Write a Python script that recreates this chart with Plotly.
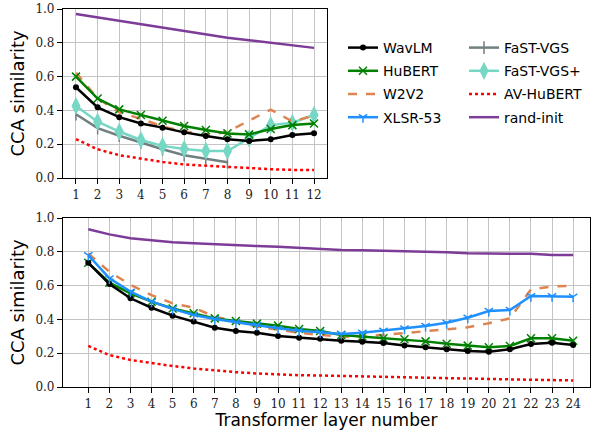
import plotly.graph_objects as go

layers12 = list(range(1, 13))
layers24 = list(range(1, 25))

# Top panel (12-layer models)
top_wavlm = [0.537, 0.418, 0.36, 0.323, 0.298, 0.27, 0.248, 0.229, 0.219, 0.229, 0.254, 0.265]
top_hubert = [0.60, 0.47, 0.406, 0.373, 0.339, 0.308, 0.284, 0.264, 0.258, 0.29, 0.313, 0.323]
top_w2v2 = [0.623, 0.47, 0.39, 0.35, 0.305, 0.275, 0.255, 0.272, 0.34, 0.405, 0.335, 0.37]
top_fastvgs = [0.377, 0.295, 0.25, 0.21, 0.17, 0.135, 0.115, 0.093]
top_fastvgsp = [0.426, 0.333, 0.275, 0.225, 0.19, 0.172, 0.16, 0.16, 0.235, 0.313, 0.327, 0.373]
top_avhubert = [0.23, 0.17, 0.135, 0.115, 0.095, 0.08, 0.072, 0.065, 0.058, 0.052, 0.048, 0.047]
top_rand = [0.97, 0.95, 0.93, 0.91, 0.89, 0.87, 0.85, 0.83, 0.815, 0.80, 0.785, 0.77]

# Bottom panel (24-layer models)
bot_wavlm = [0.735, 0.61, 0.525, 0.469, 0.422, 0.387, 0.351, 0.331, 0.321, 0.302, 0.292, 0.286,
             0.274, 0.268, 0.26, 0.246, 0.235, 0.223, 0.213, 0.209, 0.223, 0.254, 0.262, 0.249]
bot_hubert = [0.735, 0.617, 0.554, 0.505, 0.465, 0.436, 0.406, 0.39, 0.375, 0.363, 0.343, 0.331,
              0.308, 0.298, 0.288, 0.282, 0.27, 0.256, 0.245, 0.235, 0.243, 0.288, 0.288, 0.274]
bot_w2v2 = [0.79, 0.682, 0.604, 0.544, 0.495, 0.469, 0.416, 0.39, 0.357, 0.337, 0.321, 0.308,
            0.298, 0.298, 0.308, 0.318, 0.331, 0.341, 0.353, 0.377, 0.406, 0.578, 0.594, 0.60]
bot_xlsr = [0.78, 0.643, 0.564, 0.505, 0.462, 0.426, 0.402, 0.383, 0.367, 0.347, 0.333, 0.323,
            0.314, 0.321, 0.333, 0.347, 0.361, 0.38, 0.41, 0.45, 0.456, 0.538, 0.538, 0.534]
bot_avhubert = [0.243, 0.189, 0.16, 0.14, 0.124, 0.11, 0.098, 0.088, 0.08, 0.074, 0.07, 0.068,
                0.065, 0.062, 0.059, 0.056, 0.053, 0.05, 0.048, 0.046, 0.045, 0.043, 0.041, 0.039]
bot_rand = [0.933, 0.903, 0.88, 0.866, 0.856, 0.85, 0.844, 0.836, 0.834, 0.83, 0.824, 0.815,
            0.811, 0.809, 0.807, 0.803, 0.801, 0.797, 0.791, 0.791, 0.789, 0.788, 0.781, 0.781]

C_WAVLM = "black"
C_HUBERT = "green"
C_W2V2 = "#dd8452"
C_XLSR = "#1e90ff"
C_FAST = "#708080"
C_FASTP = "#76d7c4"
C_AV = "red"
C_RAND = "#7d3c98"

fig = go.Figure()

def add(x, y, name, color, dash="solid", symbol=None, msize=6, mlw=1.5, xa="x", ya="y",
        legend="legend", show=True, rank=1000):
    mode = "lines+markers" if symbol else "lines"
    marker = dict(symbol=symbol, size=msize, color=color, line=dict(width=mlw, color=color)) if symbol else None
    fig.add_trace(go.Scatter(x=x, y=y, name=name, mode=mode,
                             line=dict(color=color, width=2.5, dash=dash),
                             marker=marker, xaxis=xa, yaxis=ya, legend=legend,
                             legendgroup=name, legendrank=rank, showlegend=show))

# Top panel traces
add(layers12, top_rand, "rand-init", C_RAND, legend="legend2", rank=4)
add(layers12, top_avhubert, "AV-HuBERT", C_AV, dash="dot", legend="legend2", rank=3)
add(layers12[:len(top_fastvgs)], top_fastvgs, "FaST-VGS", C_FAST, symbol="line-ns-open", msize=9,
    legend="legend2", rank=1)
add(layers12, top_fastvgsp, "FaST-VGS+", C_FASTP, symbol="diamond-tall", msize=13, mlw=0,
    legend="legend2", rank=2)
add(layers12, top_w2v2, "W2V2", C_W2V2, dash="dash", rank=3)
add(layers12, top_hubert, "HuBERT", C_HUBERT, symbol="x-thin-open", msize=8, rank=2)
add(layers12, top_wavlm, "WavLM", C_WAVLM, symbol="circle", msize=6, mlw=0, rank=1)

# Bottom panel traces
add(layers24, bot_rand, "rand-init", C_RAND, xa="x2", ya="y2", show=False)
add(layers24, bot_avhubert, "AV-HuBERT", C_AV, dash="dot", xa="x2", ya="y2", show=False)
add(layers24, bot_w2v2, "W2V2", C_W2V2, dash="dash", xa="x2", ya="y2", show=False)
add(layers24, bot_hubert, "HuBERT", C_HUBERT, symbol="x-thin-open", msize=8, xa="x2", ya="y2", show=False)
add(layers24, bot_wavlm, "WavLM", C_WAVLM, symbol="circle", msize=6, mlw=0, xa="x2", ya="y2", show=False)
add(layers24, bot_xlsr, "XLSR-53", C_XLSR, symbol="y-down-open", msize=7, xa="x2", ya="y2", rank=4)

W, H = 595, 431
ML, MR, MT, MB = 63, 5, 9, 44
PW, PH = W - ML - MR, H - MT - MB

def px(X):
    return (X - ML) / PW

def py(Y):
    return (H - MB - Y) / PH

tickfont = dict(family="DejaVu Serif", size=12, color="#222")
grid = dict(showgrid=True, gridcolor="#c4c4c4", gridwidth=1, showline=True, linecolor="black",
            linewidth=1.2, mirror=True, ticks="outside", ticklen=5, tickcolor="black",
            tickfont=tickfont, zeroline=False, automargin=False)
titlefont = dict(family="DejaVu Sans", size=18, color="black")

ticks12 = [str(v) for v in layers12]
ticks24 = [str(v) for v in layers24]
yticks = [0.0, 0.2, 0.4, 0.6, 0.8, 1.0]
ytext = ["0.0", "0.2", "0.4", "0.6", "0.8", "1.0"]

legfont = dict(family="DejaVu Sans", size=14, color="black")

fig.update_layout(
    width=W, height=H,
    margin=dict(l=ML, r=MR, t=MT, b=MB, autoexpand=False),
    plot_bgcolor="white", paper_bgcolor="white",
    xaxis=dict(domain=[0, px(327)], range=[0.4, 12.6], tickvals=layers12, ticktext=ticks12,
               anchor="y", **grid),
    yaxis=dict(domain=[py(178), py(9)], range=[0, 1], tickvals=yticks, ticktext=ytext,
               anchor="x", title=dict(text="CCA similarity", font=titlefont, standoff=6), **grid),
    xaxis2=dict(domain=[0, 1], range=[-0.2, 24.8], tickvals=layers24, ticktext=ticks24,
                anchor="y2", title=dict(text="Transformer layer number",
                                        font=dict(family="DejaVu Sans", size=17, color="black"), standoff=2),
                **grid),
    yaxis2=dict(domain=[0, py(218)], range=[0, 1], tickvals=yticks, ticktext=ytext,
                anchor="x2", title=dict(text="CCA similarity", font=titlefont, standoff=6), **grid),
    legend=dict(x=px(343), y=py(32), xanchor="left", yanchor="top", traceorder="grouped",
                font=legfont, tracegroupgap=2, bgcolor="rgba(0,0,0,0)"),
    legend2=dict(x=px(464), y=py(32), xanchor="left", yanchor="top", traceorder="grouped",
                 font=legfont, tracegroupgap=2, bgcolor="rgba(0,0,0,0)"),
)

fig.write_html("out.html", post_script="document.body.style.margin='0';",
               config={"displayModeBar": False})
